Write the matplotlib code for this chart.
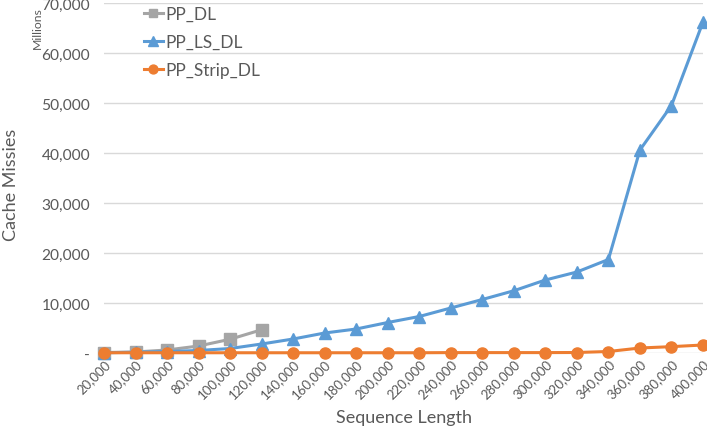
import matplotlib
matplotlib.use("Agg")
import matplotlib.pyplot as plt
from matplotlib.ticker import FuncFormatter

plt.rcParams['font.family'] = ['Lato', 'DejaVu Sans']

seq_len = [20000, 40000, 60000, 80000, 100000, 120000, 140000, 160000, 180000, 200000,
           220000, 240000, 260000, 280000, 300000, 320000, 340000, 360000, 380000, 400000]
pp_dl = [100, 200, 600, 1400, 2750, 4650]
pp_ls_dl = [50, 150, 300, 500, 900, 1800, 2800, 4000, 4800, 6100,
            7300, 9000, 10700, 12450, 14600, 16200, 18700, 40600, 49500, 66200]
pp_strip_dl = [50, 50, 50, 50, 50, 50, 50, 50, 50, 50,
               50, 80, 80, 80, 80, 100, 300, 1000, 1270, 1600]
y_ticks = [0, 10000, 20000, 30000, 40000, 50000, 60000, 70000]

TXT = '#595959'
fig = plt.figure(figsize=(7.07, 4.31), dpi=100)
ax = fig.add_axes([104/707, 1-354/431, (703-104)/707, (354-4)/431])

x = list(range(len(seq_len)))
ax.plot(x[:len(pp_dl)], pp_dl, color='#a5a5a5', lw=2.2, marker='s', ms=8, clip_on=False, label='PP_DL', zorder=3)
ax.plot(x, pp_ls_dl, color='#5b9bd5', lw=2.2, marker='^', ms=8.5, clip_on=False, label='PP_LS_DL', zorder=4)
ax.plot(x, pp_strip_dl, color='#ed7d31', lw=2.2, marker='o', ms=8, clip_on=False, label='PP_Strip_DL', zorder=5)

ax.set_xlim(0, len(seq_len)-1)
ax.set_ylim(0, 70000)
ax.set_yticks(y_ticks)
ax.yaxis.set_major_formatter(FuncFormatter(lambda v, p: '-' if v == 0 else f'{int(v):,}'))
ax.set_xticks(x)
ax.set_xticklabels([f'{v:,}' for v in seq_len], rotation=45, ha='right', rotation_mode='anchor', fontsize=9.5, color=TXT)
ax.tick_params(axis='y', labelsize=11.2, colors=TXT, length=0, pad=10)
ax.tick_params(axis='x', length=0, pad=3)

ax.grid(axis='y', color='#d9d9d9', lw=1)
ax.set_axisbelow(True)
for s in ax.spines.values():
    s.set_visible(False)

ax.set_xlabel('Sequence Length', fontsize=13, color=TXT, labelpad=6)
fig.text(11/707, 1-185/431, 'Cache Missies', rotation=90, fontsize=13, color=TXT, ha='center', va='center')
fig.text(37/707, 1-28/431, 'Millions', rotation=90, fontsize=8.8, color=TXT, ha='center', va='center')

leg = ax.legend(loc='upper left', bbox_to_anchor=(128/707, 1.02), bbox_transform=fig.transFigure,
                frameon=False, fontsize=12.5, handlelength=1.1, labelspacing=0.7, handletextpad=0.15,
                labelcolor=TXT, markerscale=0.8)

fig.savefig('out.png', dpi=100)
